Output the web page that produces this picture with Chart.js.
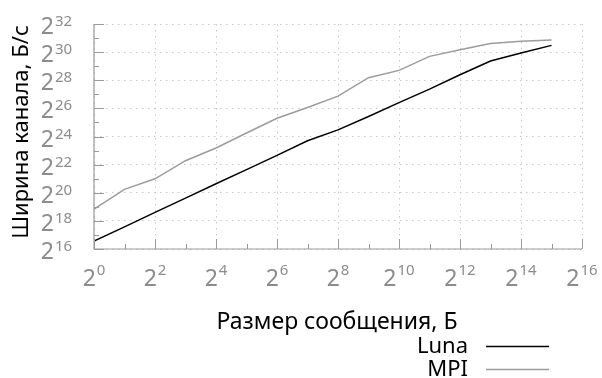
<!DOCTYPE html>
<html>
<head>
<meta charset="utf-8">
<script src="https://cdn.jsdelivr.net/npm/chart.js@4"></script>
<style>
  html, body { margin: 0; padding: 0; background: #ffffff; }
  #wrap { width: 602px; height: 378px; }
</style>
</head>
<body>
<div id="wrap"><canvas id="bwChart" width="602" height="378"></canvas></div>
<script>
// Размер сообщения (log2 байт) и пропускная способность (log2 Б/с)
const sizeLog2 = [0, 1, 2, 3, 4, 5, 6, 7, 8, 9, 10, 11, 12, 13, 14, 15];
const lunaLog2 = [16.57, 17.57, 18.6, 19.62, 20.64, 21.64, 22.66, 23.7, 24.47, 25.42, 26.41, 27.37, 28.39, 29.37, 29.94, 30.48];
const mpiLog2 = [18.83, 20.24, 20.99, 22.28, 23.18, 24.25, 25.3, 26.06, 26.87, 28.18, 28.7, 29.7, 30.17, 30.62, 30.77, 30.86];

// Подписи делений: основание 2 и показатель степени
const xTickExp = [0, 2, 4, 6, 8, 10, 12, 14, 16];
const yTickExp = [16, 18, 20, 22, 24, 26, 28, 30, 32];

const xTitle = 'Размер сообщения, Б';
const yTitle = 'Ширина канала, Б/с';
const FONT = '"Noto Sans", "Open Sans", sans-serif';

function toPoints(xs, ys) {
    return xs.map((x, i) => ({ x: x, y: ys[i] }));
}

// Сетка только на чётных степенях, пунктиром
function gridColor(ctx) {
    if (!ctx.tick) return 'rgba(0,0,0,0)';
    return ctx.tick.value % 2 === 0 ? '#c8c8c8' : 'rgba(0,0,0,0)';
}

// Оси, засечки внутрь, подписи вида 2^n и легенда справа снизу
const decorPlugin = {
    id: 'decor',
    afterDatasetsDraw(chart) {
        const { ctx, chartArea: a, scales } = chart;
        const xs = scales.x, ys = scales.y;
        ctx.save();

        // линии осей
        ctx.strokeStyle = '#9a9a9a';
        ctx.lineWidth = 1.2;
        ctx.beginPath();
        ctx.moveTo(a.left, a.top);
        ctx.lineTo(a.left, a.bottom);
        ctx.lineTo(a.right, a.bottom);
        ctx.stroke();

        // засечки
        ctx.lineWidth = 1;
        for (let e = 0; e <= 16; e++) {
            const px = Math.round(xs.getPixelForValue(e)) + 0.5;
            const len = e % 2 === 0 ? 10 : 5;
            ctx.beginPath();
            ctx.moveTo(px, a.bottom);
            ctx.lineTo(px, a.bottom - len);
            ctx.stroke();
        }
        for (let e = 16; e <= 32; e++) {
            const py = Math.round(ys.getPixelForValue(e)) + 0.5;
            const len = e % 2 === 0 ? 10 : 5;
            ctx.beginPath();
            ctx.moveTo(a.left, py);
            ctx.lineTo(a.left + len, py);
            ctx.stroke();
        }

        ctx.fillStyle = '#8c8c8c';
        ctx.textBaseline = 'alphabetic';
        const baseFont = '23px ' + FONT;
        const supFont = '15px ' + FONT;

        // подписи оси X
        xTickExp.forEach(e => {
            const px = xs.getPixelForValue(e);
            ctx.font = baseFont;
            const wb = ctx.measureText('2').width;
            ctx.font = supFont;
            const ws = ctx.measureText(String(e)).width;
            const left = px - (wb + 1 + ws) / 2;
            ctx.textAlign = 'left';
            ctx.font = baseFont;
            ctx.fillText('2', left, a.bottom + 37);
            ctx.font = supFont;
            ctx.fillText(String(e), left + wb + 1, a.bottom + 26);
        });

        // подписи оси Y
        yTickExp.forEach(e => {
            const py = ys.getPixelForValue(e);
            ctx.textAlign = 'right';
            ctx.font = baseFont;
            ctx.fillText('2', 54, py + 10);
            ctx.textAlign = 'left';
            ctx.font = supFont;
            ctx.fillText(String(e), 55, py + 2);
        });

        // названия осей
        ctx.fillStyle = '#000000';
        ctx.font = '23px ' + FONT;
        ctx.textAlign = 'center';
        ctx.fillText(xTitle, 337, 329);

        ctx.save();
        ctx.font = '22px ' + FONT;
        ctx.translate(28, 132);
        ctx.rotate(-Math.PI / 2);
        ctx.fillText(yTitle, 0, 0);
        ctx.restore();

        // легенда
        ctx.font = '22px ' + FONT;
        chart.data.datasets.forEach((ds, i) => {
            const y = 346 + i * 23;
            ctx.textAlign = 'right';
            ctx.fillStyle = '#000000';
            ctx.fillText(ds.label, 468, y + 7);
            ctx.strokeStyle = ds.borderColor;
            ctx.lineWidth = 1.5;
            ctx.beginPath();
            ctx.moveTo(486, y + 0.5);
            ctx.lineTo(549, y + 0.5);
            ctx.stroke();
        });

        ctx.restore();
    }
};

new Chart(document.getElementById('bwChart'), {
    type: 'line',
    data: {
        datasets: [
            {
                label: 'Luna',
                data: toPoints(sizeLog2, lunaLog2),
                borderColor: '#000000',
                borderWidth: 1.5,
                pointRadius: 0,
                tension: 0,
                fill: false
            },
            {
                label: 'MPI',
                data: toPoints(sizeLog2, mpiLog2),
                borderColor: '#9c9c9c',
                borderWidth: 1.5,
                pointRadius: 0,
                tension: 0,
                fill: false
            }
        ]
    },
    options: {
        responsive: false,
        animation: false,
        events: [],
        layout: { padding: { left: 94, top: 24, right: 20, bottom: 129 } },
        plugins: { legend: { display: false }, tooltip: { enabled: false } },
        scales: {
            x: {
                type: 'linear',
                min: 0,
                max: 16,
                ticks: { display: false, stepSize: 1 },
                grid: { color: gridColor, drawTicks: false, lineWidth: 1 },
                border: { display: false, dash: [1.5, 4.5] },
                afterFit(scale) { scale.height = 0; }
            },
            y: {
                type: 'linear',
                min: 16,
                max: 32,
                ticks: { display: false, stepSize: 1 },
                grid: { color: gridColor, drawTicks: false, lineWidth: 1 },
                border: { display: false, dash: [1.5, 4.5] },
                afterFit(scale) { scale.width = 0; }
            }
        }
    },
    plugins: [decorPlugin]
});
</script>
</body>
</html>
